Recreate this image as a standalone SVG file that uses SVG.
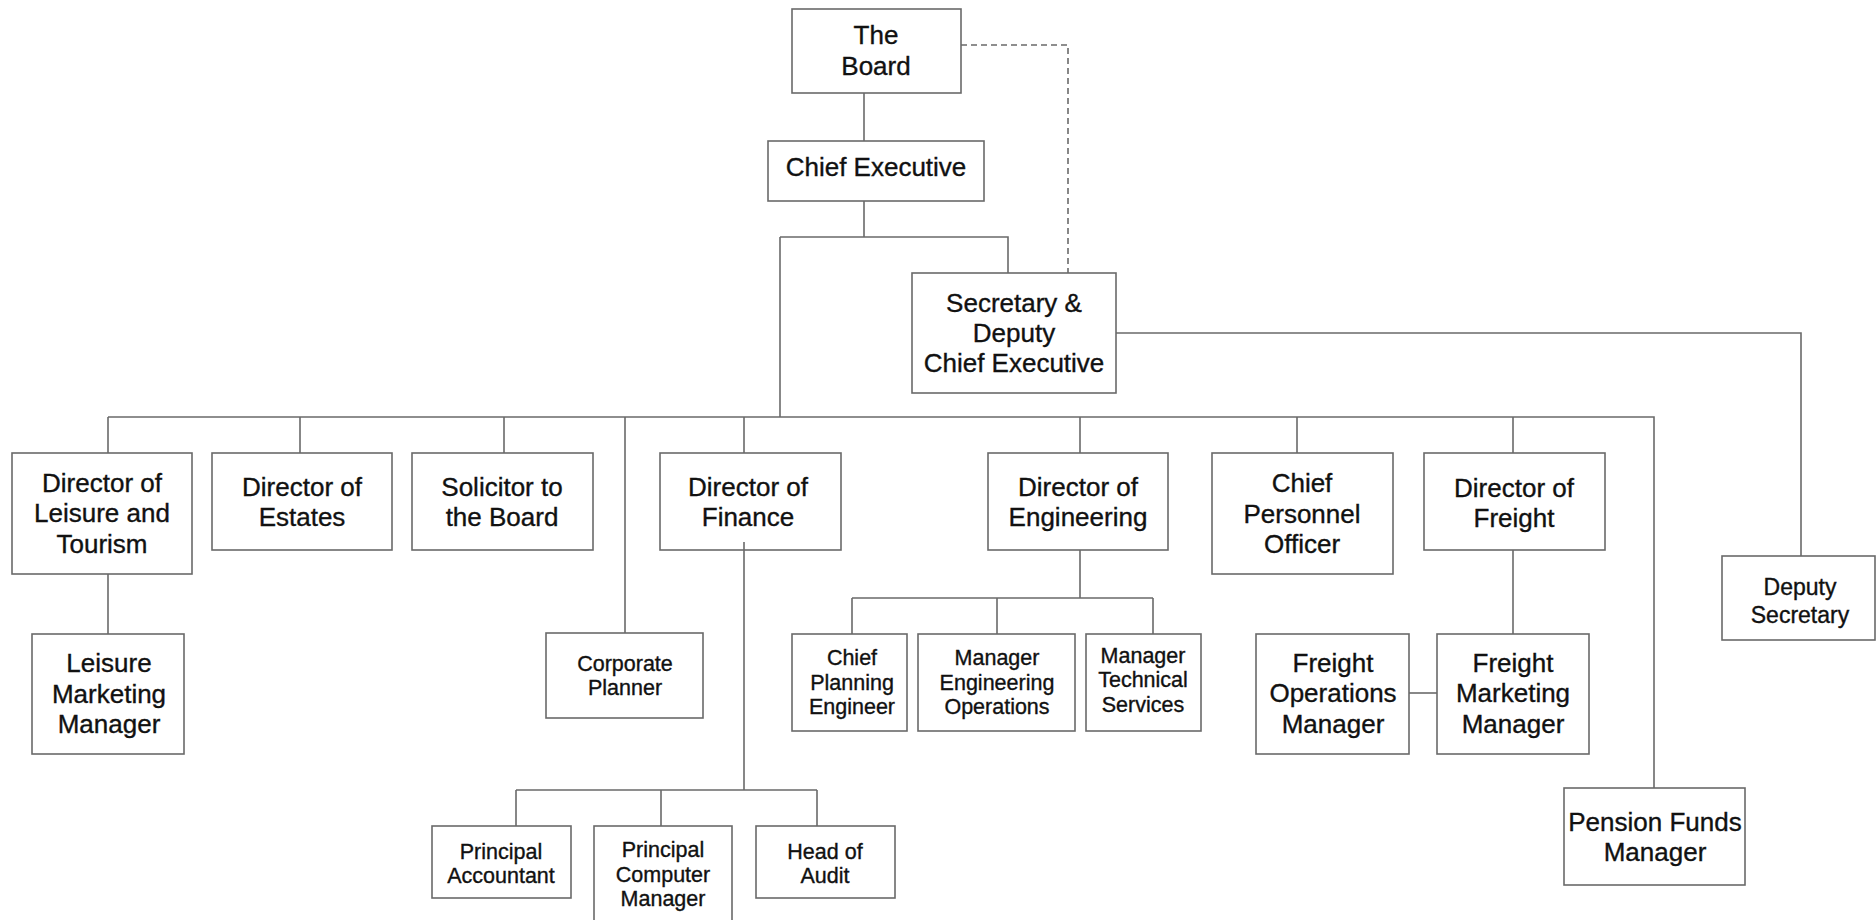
<svg xmlns="http://www.w3.org/2000/svg" width="1876" height="920" viewBox="0 0 1876 920">
<style>
rect.n{fill:#fff;stroke:#6a6a6a;stroke-width:1.6}
.c path{fill:none;stroke:#6a6a6a;stroke-width:1.6}
.c .d{stroke-dasharray:6 4}
text{font-family:"Liberation Sans",Arial,sans-serif;fill:#111;stroke:#111;stroke-width:0.35;text-anchor:middle}
.L{font-size:26px}
.M{font-size:23px}
.S{font-size:21.5px}
</style>
<rect width="1876" height="920" fill="#fff"/>
<g id="board"><rect class="n" x="792" y="9" width="169" height="84"/><text class="L" x="876" y="44">The</text><text class="L" x="876" y="75">Board</text></g>
<g id="chief-executive"><rect class="n" x="768" y="141" width="216" height="60"/><text class="L" x="876" y="176">Chief Executive</text></g>
<g id="secretary"><rect class="n" x="912" y="273" width="204" height="120"/><text class="L" x="1014" y="312">Secretary &amp;</text><text class="L" x="1014" y="342">Deputy</text><text class="L" x="1014" y="372">Chief Executive</text></g>
<g id="dir-leisure"><rect class="n" x="12" y="453" width="180" height="121"/><text class="L" x="102" y="492">Director of</text><text class="L" x="102" y="522">Leisure and</text><text class="L" x="102" y="553">Tourism</text></g>
<g id="dir-estates"><rect class="n" x="212" y="453" width="180" height="97"/><text class="L" x="302" y="496">Director of</text><text class="L" x="302" y="526">Estates</text></g>
<g id="solicitor"><rect class="n" x="412" y="453" width="181" height="97"/><text class="L" x="502" y="496">Solicitor to</text><text class="L" x="502" y="526">the Board</text></g>
<g id="dir-finance"><rect class="n" x="660" y="453" width="181" height="97"/><text class="L" x="748" y="496">Director of</text><text class="L" x="748" y="526">Finance</text></g>
<g id="dir-engineering"><rect class="n" x="988" y="453" width="180" height="97"/><text class="L" x="1078" y="496">Director of</text><text class="L" x="1078" y="526">Engineering</text></g>
<g id="chief-personnel"><rect class="n" x="1212" y="453" width="181" height="121"/><text class="L" x="1302" y="492">Chief</text><text class="L" x="1302" y="523">Personnel</text><text class="L" x="1302" y="553">Officer</text></g>
<g id="dir-freight"><rect class="n" x="1424" y="453" width="181" height="97"/><text class="L" x="1514" y="497">Director of</text><text class="L" x="1514" y="527">Freight</text></g>
<g id="deputy-secretary"><rect class="n" x="1722" y="556" width="153" height="84"/><text class="M" x="1800" y="595">Deputy</text><text class="M" x="1800" y="623">Secretary</text></g>
<g id="leisure-marketing"><rect class="n" x="32" y="634" width="152" height="120"/><text class="L" x="109" y="672">Leisure</text><text class="L" x="109" y="703">Marketing</text><text class="L" x="109" y="733">Manager</text></g>
<g id="corporate-planner"><rect class="n" x="546" y="633" width="157" height="85"/><text class="S" x="625" y="671">Corporate</text><text class="S" x="625" y="695">Planner</text></g>
<g id="chief-planning"><rect class="n" x="792" y="634" width="115" height="97"/><text class="S" x="852" y="665">Chief</text><text class="S" x="852" y="690">Planning</text><text class="S" x="852" y="714">Engineer</text></g>
<g id="manager-eng-ops"><rect class="n" x="918" y="634" width="157" height="97"/><text class="S" x="997" y="665">Manager</text><text class="S" x="997" y="690">Engineering</text><text class="S" x="997" y="714">Operations</text></g>
<g id="manager-tech"><rect class="n" x="1086" y="634" width="115" height="97"/><text class="S" x="1143" y="663">Manager</text><text class="S" x="1143" y="687">Technical</text><text class="S" x="1143" y="712">Services</text></g>
<g id="freight-ops"><rect class="n" x="1256" y="634" width="153" height="120"/><text class="L" x="1333" y="672">Freight</text><text class="L" x="1333" y="702">Operations</text><text class="L" x="1333" y="733">Manager</text></g>
<g id="freight-marketing"><rect class="n" x="1437" y="634" width="152" height="120"/><text class="L" x="1513" y="672">Freight</text><text class="L" x="1513" y="702">Marketing</text><text class="L" x="1513" y="733">Manager</text></g>
<g id="pension"><rect class="n" x="1564" y="788" width="181" height="97"/><text class="L" x="1655" y="831">Pension Funds</text><text class="L" x="1655" y="861">Manager</text></g>
<g id="principal-accountant"><rect class="n" x="432" y="826" width="139" height="72"/><text class="S" x="501" y="859">Principal</text><text class="S" x="501" y="883">Accountant</text></g>
<g id="principal-computer"><rect class="n" x="594" y="826" width="138" height="100"/><text class="S" x="663" y="857">Principal</text><text class="S" x="663" y="882">Computer</text><text class="S" x="663" y="906">Manager</text></g>
<g id="head-audit"><rect class="n" x="756" y="826" width="139" height="72"/><text class="S" x="825" y="859">Head of</text><text class="S" x="825" y="883">Audit</text></g>
<g class="c" id="connectors">
<path d="M864,93V141"/>
<path d="M864,201V237M780,237H1008V273"/>
<path class="d" d="M961,45H1068V273"/>
<path d="M780,237V417"/>
<path d="M108,417H1654V788"/>
<path d="M108,417V453M300,417V453M504,417V453M625,417V633M744,417V453M1080,417V453M1297,417V453M1513,417V453"/>
<path d="M1116,333H1801V556"/>
<path d="M108,574V634"/>
<path d="M744,542V790M516,790H817M516,790V826M661,790V826M817,790V826"/>
<path d="M1080,550V598M852,598H1153M852,598V634M997,598V634M1153,598V634"/>
<path d="M1513,550V634"/>
<path d="M1409,693H1437"/>
</g>
</svg>
